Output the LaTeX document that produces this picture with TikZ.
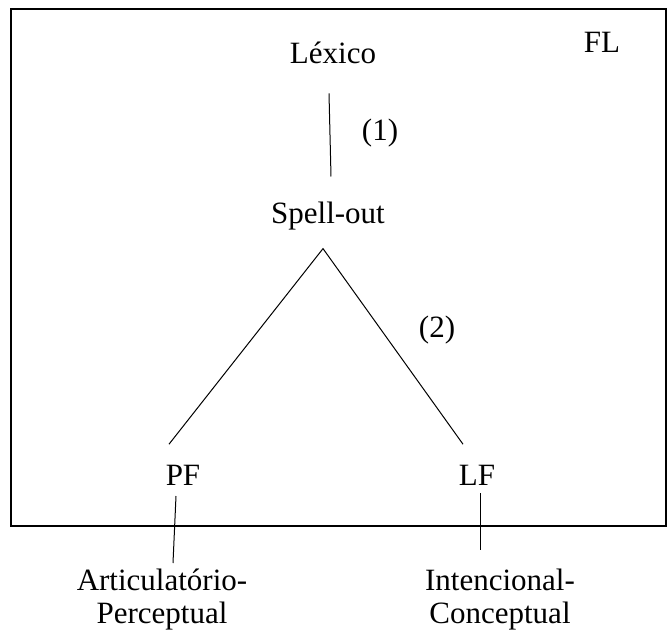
\documentclass[tikz,border=0pt]{standalone}
\usepackage{fontspec}
\setmainfont{Liberation Serif}
\usetikzlibrary{positioning}
\tikzset{
  lbl/.style={inner sep=0pt, outer sep=0pt, font=\fontsize{31}{33}\selectfont},
  lblTwo/.style={lbl, align=center, anchor=north},
  link/.style={draw=black, line width=1pt},
  frameBox/.style={draw=black, line width=1.3pt},
}
\begin{document}
\begin{tikzpicture}[x=1pt, y=-1pt]
    \useasboundingbox (0,0) rectangle (667,633);
    \draw[frameBox] (11,9) rectangle (666,526);
    % labels inside the box
    \node[lbl, anchor=base] (lex) at (333,63) {Léxico};
    \node[lbl, anchor=base] (fl) at (602,52) {FL};
    \node[lbl, anchor=base] (one) at (380,140) {(1)};
    \node[lbl, anchor=base] (spell) at (328,223) {Spell-out};
    \node[lbl, anchor=base] (two) at (437,337) {(2)};
    \node[lbl, anchor=base] (pf) at (183,485) {PF};
    \node[lbl, anchor=base] (lf) at (477,485) {LF};
    % interfaces below
    \node[lblTwo] (artic) at (162,569) {Articulatório-\\Perceptual};
    \node[lblTwo] (intenc) at (500,569) {Intencional-\\Conceptual};
    % links
    \draw[link] ([xshift=-4pt, yshift=-30pt]lex.south) -- ([xshift=3pt, yshift=25pt]spell.north);
    \draw[link] ([xshift=-14pt, yshift=20.5pt]pf.north) -- ([xshift=-5pt, yshift=-19pt]spell.south)
      -- ([xshift=-14pt, yshift=20.5pt]lf.north);
    \draw[link] ([xshift=-7pt, yshift=-11pt]pf.south) -- ([xshift=11pt, yshift=6pt]artic.north);
    \draw[link] ([xshift=3pt, yshift=-8pt]lf.south) -- ([xshift=-20pt, yshift=19pt]intenc.north);
\end{tikzpicture}
\end{document}
